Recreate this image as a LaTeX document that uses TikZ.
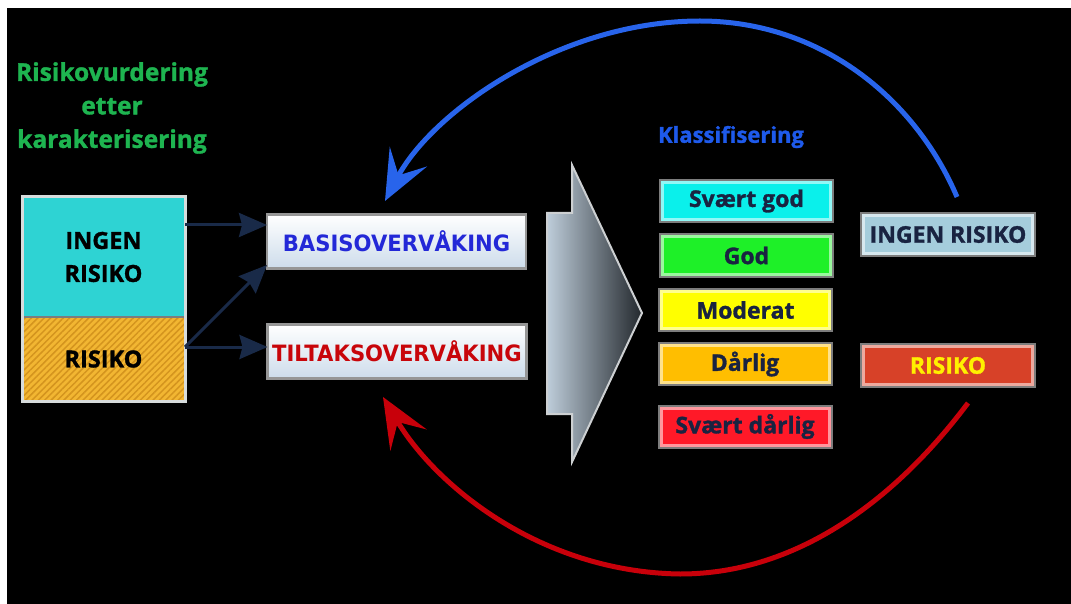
\documentclass[tikz,border=0pt]{standalone}
\usepackage{fontspec}
\setmainfont{Open Sans}[BoldFeatures={FakeBold=1.3}]
\newfontfamily\tahoma[FakeStretch=0.94]{DejaVu Sans}
\usetikzlibrary{arrows.meta,patterns.meta}
\definecolor{titlegreen}{RGB}{30,180,80}
\definecolor{klassblue}{RGB}{30,90,235}
\definecolor{leftcyan}{RGB}{46,211,211}
\definecolor{leftorange}{RGB}{242,182,50}
\definecolor{hatchline}{RGB}{212,148,30}
\definecolor{leftrim}{RGB}{215,220,220}
\definecolor{navy}{RGB}{25,42,72}
\definecolor{monborder}{RGB}{150,150,150}
\definecolor{monblue}{RGB}{205,220,235}
\definecolor{basisblue}{RGB}{35,40,215}
\definecolor{tiltakred}{RGB}{200,5,10}
\definecolor{boxgray}{RGB}{125,125,125}
\definecolor{boxtext}{RGB}{25,35,65}
\definecolor{cSg}{RGB}{10,240,235}
\definecolor{cG}{RGB}{30,240,40}
\definecolor{cM}{RGB}{255,255,0}
\definecolor{cD}{RGB}{255,190,0}
\definecolor{cSd}{RGB}{255,25,40}
\definecolor{cIR}{RGB}{165,205,220}
\definecolor{cRR}{RGB}{215,65,40}
\definecolor{risyellow}{RGB}{255,240,0}
\definecolor{arcblue}{RGB}{40,100,235}
\definecolor{arcred}{RGB}{200,0,10}
\definecolor{arrowlight}{RGB}{190,205,218}
\definecolor{arrowdark}{RGB}{35,40,45}
\definecolor{arrowedge}{RGB}{205,208,210}
\begin{document}
\begin{tikzpicture}[x=1pt,y=-1pt,
  every node/.style={inner sep=0pt,outer sep=0pt},
  titletext/.style={text=titlegreen,align=center,font=\fontsize{24.5}{33.5}\selectfont\bfseries},
  leftpart/.style={rectangle,minimum width=163pt,text=black,align=center,font=\fontsize{23.5}{33}\selectfont\bfseries},
  monbox/.style={rectangle,minimum width=259pt,minimum height=54pt,draw=monborder,line width=2.5pt,top color=white,bottom color=monblue,font=\tahoma\fontsize{22.5}{26}\selectfont\bfseries},
  classbox/.style={rectangle,minimum width=168pt,minimum height=37pt,fill=#1,draw=white!55!#1,line width=3pt,preaction={draw=boxgray,line width=7pt},text=boxtext,font=\fontsize{23}{27}\selectfont\bfseries},
  navyarrow/.style={draw=navy,line width=3pt,-{Stealth[length=28pt,width=24pt,inset=3pt]}},
  bigarc/.style={line width=5pt,-{Stealth[length=50pt,width=42pt,inset=21pt]}}
]
\useasboundingbox (0,0) rectangle (1071,604);
\fill[white] (0,0) rectangle (1071,604);
\fill[black] (7,8) rectangle (1071,604);

% title
\node[titletext] (title) at (112,108) {Risikovurdering\\etter\\karakterisering};

% left box
\node[leftpart,minimum height=120pt,fill=leftcyan] (ingen) at (103.5,257) {INGEN\\RISIKO};
\node[leftpart,minimum height=84pt,preaction={fill=leftorange},pattern={Lines[angle=45,distance=4.5pt,line width=1.5pt]},pattern color=hatchline] (risikoL) at (103.5,359) {};
\node[leftpart] (risikoLtext) at (risikoL.center) {RISIKO};
\draw[boxgray,line width=1.5pt] (ingen.south west) -- (ingen.south east);
\draw[leftrim,line width=3pt] (ingen.north west) rectangle (risikoL.south east);

% monitoring boxes
\node[monbox,text=basisblue] (basis) at (396.5,241.5) {BASISOVERVÅKING};
\node[monbox,text=tiltakred] (tiltak) at (397,351.5) {TILTAKSOVERVÅKING};

% navy arrows
\draw[navyarrow] ([yshift=32pt]ingen.east) -- ([yshift=16.5pt]basis.west);
\draw[navyarrow] ([yshift=12pt]risikoL.east) -- ([yshift=-23.5pt]basis.west);
\draw[navyarrow] ([yshift=12pt]risikoL.east) -- ([yshift=4.5pt]tiltak.west);

% big arrow
\draw[arrowedge,line width=2pt,left color=arrowlight,right color=arrowdark]
  (547,213) -- (572,213) -- (572,165) -- (642,313) -- (572,462) -- (572,414) -- (547,414) -- cycle;

% classification
\node[text=klassblue,font=\fontsize{22}{26}\selectfont\bfseries] (klass) at (731,137) {Klassifisering};
\node[classbox=cSg] (sg) at (746.5,201) {Svært god};
\node[classbox=cG] (g) at (746.5,255.5) {God};
\node[classbox=cM] (m) at (745.5,310) {Moderat};
\node[classbox=cD] (d) at (745,364) {Dårlig};
\node[classbox=cSd] (sd) at (745,426.5) {Svært dårlig};

\node[classbox=cIR,minimum width=169pt,minimum height=38pt] (ingenR) at (948,234.5) {INGEN RISIKO};
\node[classbox=cRR,minimum width=169pt,minimum height=38pt,text=risyellow] (risikoR) at (948,365.5) {RISIKO};

% feedback arcs
\coordinate (bstart) at (957,197);
\coordinate (bmid) at (700,21);
\coordinate (btip) at (385,201);
\coordinate (rstart) at (968,403);
\coordinate (rmid) at (680,574);
\coordinate (rtip) at (383,397);
\draw[bigarc,arcblue] (bstart) .. controls (915,98) and (820,21) .. (bmid) .. controls (560,21) and (432,112) .. (btip);
\draw[bigarc,arcred] (rstart) .. controls (908,483) and (810,574) .. (rmid) .. controls (540,572) and (435,485) .. (rtip);
\end{tikzpicture}
\end{document}
